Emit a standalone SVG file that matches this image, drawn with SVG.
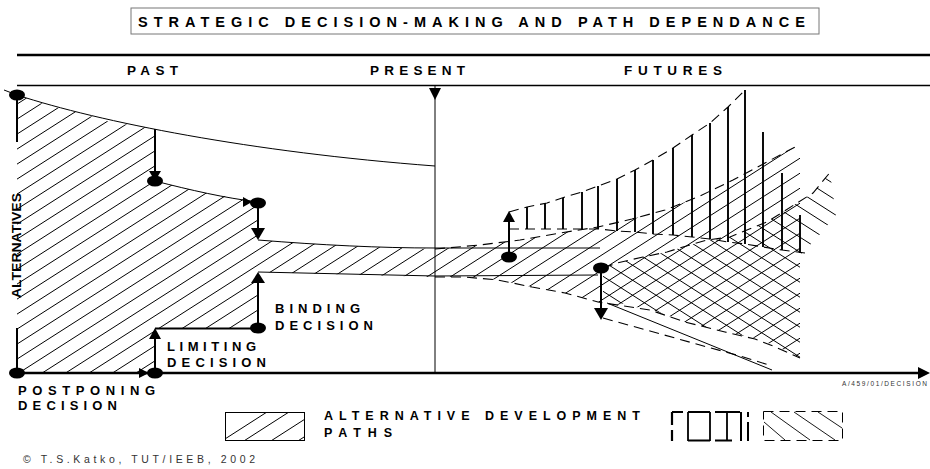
<svg xmlns="http://www.w3.org/2000/svg" width="930" height="469" viewBox="0 0 930 469">
<style>
.t{font-family:"Liberation Sans",Arial,sans-serif;font-weight:bold;fill:#000}
.n{font-family:"Liberation Sans",Arial,sans-serif;fill:#333}
.thin{fill:none;stroke:#000;stroke-width:1}
.hatch{fill:none;stroke:#000;stroke-width:1}
.dash{fill:none;stroke:#000;stroke-width:1.1;stroke-dasharray:10,6}
.vert{stroke:#000;stroke-width:1.9}
.dot{fill:#000}
.head{fill:#000}
.shaft{stroke:#000;stroke-width:2}
</style>
<defs>
<clipPath id="clipF">
<path d="M17,95 L40,103 L67,110 L90,116 L110,122 L130,125 L155,129 L155,181 L200,192 L230,197 L258,202 L258,240 L300,243 L350,246 L400,248 L435,249 L450,248 L480,245 L520,240 L560,233 L598,227 L632,219 L665,210 L700,196 L733,180 L765,163 L795,147 L800,147 L800,358 L795,355 L773,345 L755,338 L725,332 L685,322 L650,309 L598,302 L565,293 L532,287 L498,280 L465,277 L435,277 L258,272 L258,328 L155,328 L155,373 L17,373 Z"/>
</clipPath>
<clipPath id="clipB">
<path d="M603,268 L617,263 L643,257 L667,252 L683,247 L707,240 L730,237 L747,230 L767,222 L783,212 L797,203 L813,193 L830,173 L836,215 L815,240 L800,255 L800,358 L773,345 L755,338 L725,332 L685,322 L650,309 L603,300 Z"/>
</clipPath>
<clipPath id="clipL">
<rect x="225.5" y="412.5" width="79" height="28"/>
</clipPath>
</defs>

<g id="title">
<rect x="131" y="8" width="688" height="26" fill="none" stroke="#777" stroke-width="1"/>
<text class="t" x="138" y="27" font-size="14.5" textLength="667" lengthAdjust="spacing">STRATEGIC DECISION-MAKING AND PATH DEPENDANCE</text>
</g>

<g id="header">
<line x1="17" y1="55" x2="930" y2="55" stroke="#000" stroke-width="2.5"/>
<line x1="17" y1="85.5" x2="930" y2="85.5" stroke="#000" stroke-width="1.3"/>
<text class="t" x="127" y="75" font-size="13.5" textLength="51" lengthAdjust="spacing">PAST</text>
<text class="t" x="370" y="75" font-size="13.5" textLength="95" lengthAdjust="spacing">PRESENT</text>
<text class="t" x="624" y="75" font-size="13.5" textLength="98" lengthAdjust="spacing">FUTURES</text>
</g>

<g id="past-region">
<path class="hatch" clip-path="url(#clipF)" d="M0,100 l805,-515 M0,115 l805,-515 M0,130 l805,-515 M0,145 l805,-515 M0,160 l805,-515 M0,175 l805,-515 M0,190 l805,-515 M0,205 l805,-515 M0,220 l805,-515 M0,235 l805,-515 M0,250 l805,-515 M0,265 l805,-515 M0,280 l805,-515 M0,295 l805,-515 M0,310 l805,-515 M0,325 l805,-515 M0,340 l805,-515 M0,355 l805,-515 M0,370 l805,-515 M0,385 l805,-515 M0,400 l805,-515 M0,415 l805,-515 M0,430 l805,-515 M0,445 l805,-515 M0,460 l805,-515 M0,475 l805,-515 M0,490 l805,-515 M0,505 l805,-515 M0,520 l805,-515 M0,535 l805,-515 M0,550 l805,-515 M0,565 l805,-515 M0,580 l805,-515 M0,595 l805,-515 M0,610 l805,-515 M0,625 l805,-515 M0,640 l805,-515 M0,655 l805,-515 M0,670 l805,-515 M0,685 l805,-515 M0,700 l805,-515 M0,715 l805,-515 M0,730 l805,-515 M0,745 l805,-515 M0,760 l805,-515 M0,775 l805,-515 M0,790 l805,-515 M0,805 l805,-515 M0,820 l805,-515 M0,835 l805,-515 M0,850 l805,-515 M0,865 l805,-515 M0,880 l805,-515 M0,895 l805,-515"/>
<path class="thin" d="M4,90 L17,95 C100,122 250,152 435,166"/>
<path class="thin" d="M155,181 C190,190 225,198 258,202"/>
<path class="thin" d="M258,240 C320,245 380,248 435,248 L600,248"/>
<path class="thin" d="M258,272 L435,276 L598,275" stroke="#333"/>
</g>

<g id="futures">
<path class="hatch" clip-path="url(#clipB)" d="M590,-2 l255,163 M590,13 l255,163 M590,28 l255,163 M590,43 l255,163 M590,58 l255,163 M590,73 l255,163 M590,88 l255,163 M590,103 l255,163 M590,118 l255,163 M590,133 l255,163 M590,148 l255,163 M590,163 l255,163 M590,178 l255,163 M590,193 l255,163 M590,208 l255,163 M590,223 l255,163 M590,238 l255,163 M590,253 l255,163 M590,268 l255,163 M590,283 l255,163 M590,298 l255,163 M590,313 l255,163"/>
<path class="dash" d="M435,249 L480,245 L520,240 L560,233 L598,227 L632,219 L665,210 L700,196 L733,180 L765,163 L795,147"/>
<path class="dash" d="M435,277 L465,277 L498,280 L532,287 L565,293 L598,302 L650,310 L685,322 L725,332 L755,339 L773,346 L800,358"/>
<path class="dash" d="M603,268 L617,263 L643,257 L667,252 L683,247 L707,240 L730,237 L747,230 L767,222 L783,212 L797,203 L813,193 L832,170"/>
<path class="dash" d="M603,318 L650,331 L700,345 L740,356 L772,366"/>
<line class="thin" x1="607" y1="303" x2="772" y2="370"/>
<path class="dash" d="M509,212 L527,207 L547,203 L565,197 L582,192 L598,186 L617,179 L635,170 L653,160 L673,148 L692,135 L710,123 L728,107 L745,90"/>
<path class="dash" d="M509,229 L600,229 L617,231 L635,232 L653,234 L673,235 L692,237 L710,239 L728,242 L745,244 L763,247 L782,250 L805,253"/>
<g class="vert">
<line x1="527" y1="207" x2="527" y2="229"/>
<line x1="545" y1="203" x2="545" y2="229"/>
<line x1="563" y1="198" x2="563" y2="229"/>
<line x1="582" y1="192" x2="582" y2="229"/>
<line x1="598" y1="186" x2="598" y2="229"/>
<line x1="617" y1="179" x2="617" y2="231"/>
<line x1="635" y1="170" x2="635" y2="232"/>
<line x1="653" y1="160" x2="653" y2="234"/>
<line x1="673" y1="148" x2="673" y2="235"/>
<line x1="692" y1="135" x2="692" y2="237"/>
<line x1="710" y1="123" x2="710" y2="239"/>
<line x1="728" y1="107" x2="728" y2="242"/>
<line x1="745" y1="90" x2="745" y2="244"/>
<line x1="763" y1="132" x2="763" y2="247"/>
<line x1="782" y1="173" x2="782" y2="250"/>
<line x1="800" y1="215" x2="800" y2="253"/>
</g>
</g>

<g id="axes">
<line x1="435" y1="86" x2="435" y2="373" stroke="#000" stroke-width="1"/>
<polygon class="head" points="429,88 441,88 435,100"/>
<line x1="17" y1="373" x2="922" y2="373" stroke="#000" stroke-width="2.5"/>
<polygon class="head" points="918,367 930,373 918,379"/>
<line x1="17" y1="95" x2="17" y2="142" stroke="#000" stroke-width="2"/>
<line x1="17" y1="328" x2="17" y2="373" stroke="#000" stroke-width="2"/>
<text class="t" font-size="13" transform="translate(21,298) rotate(-90)" textLength="105" lengthAdjust="spacingAndGlyphs">ALTERNATIVES</text>
</g>

<g id="decisions">
<line class="shaft" x1="155" y1="129" x2="155" y2="174"/>
<polygon class="head" points="149,171 161,171 155,181"/>
<polygon class="head" points="243,197 252,202 243,207"/>
<line class="shaft" x1="258" y1="203" x2="258" y2="230"/>
<polygon class="head" points="251,228 265,228 258,240"/>
<line class="shaft" x1="155" y1="373" x2="155" y2="336"/>
<polygon class="head" points="149,339 161,339 155,328"/>
<line class="shaft" x1="155" y1="328.5" x2="258" y2="328.5"/>
<line class="shaft" x1="258" y1="328" x2="258" y2="280"/>
<polygon class="head" points="251,283 265,283 258,272"/>
<polygon class="head" points="139,368 149,373 139,378"/>
<line class="shaft" x1="509" y1="257" x2="509" y2="220"/>
<polygon class="head" points="503,222 515,222 509,211"/>
<line class="shaft" x1="601" y1="268" x2="601" y2="310"/>
<polygon class="head" points="594,308 608,308 601,320"/>
<ellipse class="dot" cx="17" cy="95" rx="8" ry="5.5"/>
<ellipse class="dot" cx="155" cy="181" rx="8" ry="5.5"/>
<ellipse class="dot" cx="258" cy="203" rx="8" ry="5.5"/>
<ellipse class="dot" cx="17" cy="373" rx="8" ry="5.5"/>
<ellipse class="dot" cx="155" cy="373" rx="8" ry="5.5"/>
<ellipse class="dot" cx="258" cy="328" rx="8" ry="5.5"/>
<ellipse class="dot" cx="509" cy="257" rx="8" ry="5.5"/>
<ellipse class="dot" cx="601" cy="268" rx="8" ry="5.5"/>
</g>

<g id="labels">
<text class="t" x="275" y="313" font-size="13" textLength="85" lengthAdjust="spacing">BINDING</text>
<text class="t" x="275" y="330" font-size="13" textLength="98" lengthAdjust="spacing">DECISION</text>
<text class="t" x="167" y="351" font-size="13" textLength="89" lengthAdjust="spacing">LIMITING</text>
<text class="t" x="167" y="367" font-size="13" textLength="99" lengthAdjust="spacing">DECISION</text>
<text class="t" x="18" y="395" font-size="13" textLength="137" lengthAdjust="spacing">POSTPONING</text>
<text class="t" x="18" y="410" font-size="13" textLength="99" lengthAdjust="spacing">DECISION</text>
<text class="n" x="842" y="386" font-size="6.5" fill="#555" textLength="85" lengthAdjust="spacing">A/459/01/DECISION</text>
<text class="n" x="23" y="463" font-size="10.5" textLength="232" lengthAdjust="spacing">© T.S.Katko, TUT/IEEB, 2002</text>
</g>

<g id="legend">
<rect x="225.5" y="412.5" width="79" height="28" fill="#fff" stroke="#000" stroke-width="1"/>
<path class="hatch" clip-path="url(#clipL)" d="M200,455 l120,-77 M222,455 l120,-77 M249,455 l120,-77 M276,455 l120,-77 M303,455 l120,-77"/>
<text class="t" x="324" y="420" font-size="12.5" textLength="316" lengthAdjust="spacing">ALTERNATIVE DEVELOPMENT</text>
<text class="t" x="324" y="437" font-size="12.5" textLength="68" lengthAdjust="spacing">PATHS</text>
<g id="legend-comb" stroke="#000" fill="none">
<path d="M672,412 L672,425 M672,430 L672,441 M672,412 L683,412" stroke-width="2.2"/>
<path d="M688,412 L688,441 M688,412 L710,412 M710,412 L710,441 M688,440.5 L710,440.5" stroke-width="1.8"/>
<path d="M715,412 L740,412 M727,412 L727,441 M715,440.5 L732,440.5" stroke-width="1.8"/>
<path d="M741,412 L741,441 M748,412 L748,417 M748,422 L748,441" stroke-width="2"/>
</g>
<g id="legend-back" stroke="#000" fill="none">
<rect x="763.5" y="411.5" width="79" height="29" stroke-width="1" stroke-dasharray="10,6"/>
<line x1="764" y1="422" x2="785" y2="440" stroke-width="0.9"/>
<line x1="771" y1="412" x2="810" y2="440" stroke-width="0.9"/>
<line x1="794" y1="412" x2="835" y2="440" stroke-width="0.9"/>
<line x1="818" y1="412" x2="842" y2="428" stroke-width="0.9"/>
</g>
</g>
</svg>
